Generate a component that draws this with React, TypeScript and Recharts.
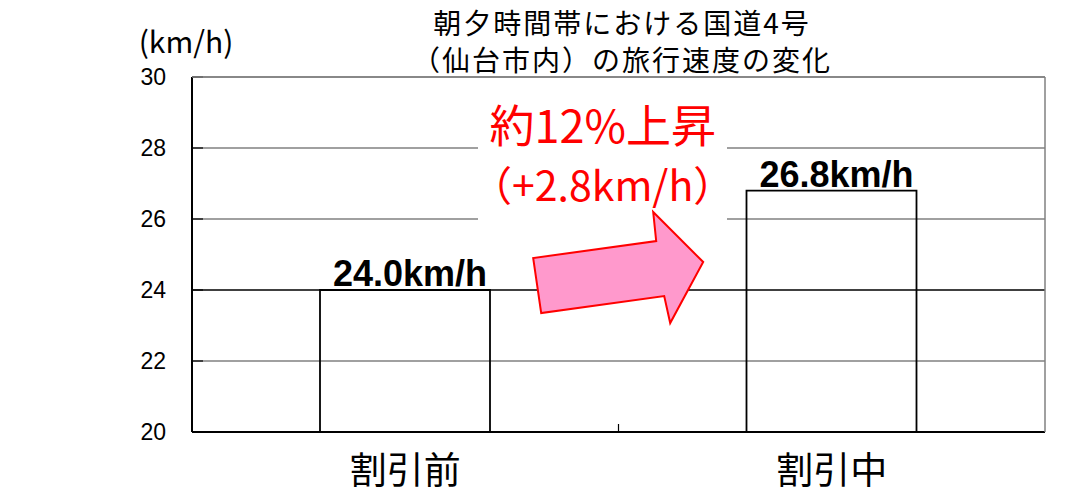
import { BarChart, Bar, XAxis, YAxis, CartesianGrid, LabelList } from 'recharts';

const categories = ['割引前', '割引中'];
const speeds = [24.0, 26.8];
const yTicks = [20, 22, 24, 26, 28, 30];
const titleLines = ['朝夕時間帯における国道4号', '（仙台市内）の旅行速度の変化'];
const unitLabel = '(km/h)';
const noteLines = ['約12%上昇', '（+2.8km/h）'];

const W = 1067;
const H = 504;
const M = { top: 77, right: 22, bottom: 12, left: 112 };
const Y_AXIS_W = 80;
const X_AXIS_H = 60;
const PLOT_LEFT = M.left + Y_AXIS_W;
const PLOT_RIGHT = W - M.right;
const PLOT_TOP = M.top;
const PLOT_BOTTOM = H - M.bottom - X_AXIS_H;
const Y_MIN = 20;
const Y_MAX = 30;

const yPx = (v: number) => PLOT_BOTTOM - ((v - Y_MIN) / (Y_MAX - Y_MIN)) * (PLOT_BOTTOM - PLOT_TOP);
const bandW = (PLOT_RIGHT - PLOT_LEFT) / categories.length;

const data = categories.map((name, i) => ({ name, speed: speeds[i] }));

const jp = '"Noto Sans CJK JP", sans-serif';
const latin = '"Liberation Sans", Arial, sans-serif';

// the 24 line is drawn black in the original, the rest grey
function GridLine(props: any) {
    const { x1, x2, y1, y2 } = props;
    const dark = Math.abs(y1 - yPx(24)) < 1;
    return <line x1={x1} x2={x2} y1={y1} y2={y2} stroke={dark ? '#000' : '#808080'} strokeWidth={1.5} />;
}

function YTick(props: any) {
    const { y, payload } = props;
    return (
        <g>
            <line x1={PLOT_LEFT} x2={PLOT_LEFT + 11} y1={y} y2={y} stroke="#000" strokeWidth={1.2} />
            <text x={PLOT_LEFT - 26} y={y + 8} textAnchor="end" fontSize={23} fontFamily={latin} fill="#000">
                {payload.value}
            </text>
        </g>
    );
}

function XTick(props: any) {
    const { x, payload } = props;
    return (
        <text x={x} y={PLOT_BOTTOM + 52} textAnchor="middle" fontSize={37} fontFamily={jp} fill="#000">
            {payload.value}
        </text>
    );
}

function Overlay() {
    // arrow between the two bars, anchored to the plot geometry
    const ax = PLOT_LEFT + bandW * 0.8;
    const ay = yPx(24.9);
    const pts = [
        [ax, ay],
        [ax + 8, ay + 55],
        [ax + 131, ay + 38],
        [ax + 137, ay + 65],
        [ax + 170, ay + 4],
        [ax + 120, ay - 46],
        [ax + 123, ay - 17],
    ]
        .map((p) => p.join(','))
        .join(' ');
    const cx = PLOT_LEFT + bandW * 0.963;
    return (
        <svg width={W} height={H} style={{ position: 'absolute', left: 0, top: 0, pointerEvents: 'none' }}>
            <line x1={PLOT_LEFT} x2={PLOT_RIGHT} y1={PLOT_TOP} y2={PLOT_TOP} stroke="#808080" strokeWidth={1.5} />
            <line x1={PLOT_RIGHT} x2={PLOT_RIGHT} y1={PLOT_TOP} y2={PLOT_BOTTOM} stroke="#808080" strokeWidth={1.5} />
            <line x1={PLOT_LEFT + bandW} x2={PLOT_LEFT + bandW} y1={PLOT_BOTTOM} y2={PLOT_BOTTOM - 8} stroke="#000" strokeWidth={1.2} />
            <text x={186} y={53} textAnchor="middle" fontSize={30} fontFamily={jp} fill="#000">
                {unitLabel}
            </text>
            {titleLines.map((t, i) => (
                <text key={i} x={622} y={34 + i * 37} textAnchor="middle" fontSize={28} letterSpacing={2} fontFamily={jp} fill="#000">
                    {t}
                </text>
            ))}
            <rect x={478} y={96} width={249} height={126} fill="#fff" />
            <text x={cx} y={143} textAnchor="middle" fontSize={45} fontFamily={jp} fill="#ff0000">
                {noteLines[0]}
            </text>
            <text x={cx} y={201} textAnchor="middle" fontSize={41} fontFamily={jp} fill="#ff0000">
                {noteLines[1]}
            </text>
            <polygon points={pts} fill="#ff99cc" stroke="#ff0000" strokeWidth={2} strokeLinejoin="miter" />
        </svg>
    );
}

export default function App() {
    return (
        <div style={{ position: 'absolute', left: 0, top: 0, width: W, height: H, background: '#fff' }}>
            <BarChart width={W} height={H} data={data} margin={M}>
                <CartesianGrid vertical={false} horizontal={(p: any) => <GridLine {...p} />} />
                <XAxis
                    dataKey="name"
                    height={X_AXIS_H}
                    stroke="#000"
                    strokeWidth={2}
                    tickLine={false}
                    tick={<XTick />}
                />
                <YAxis
                    width={Y_AXIS_W}
                    domain={[Y_MIN, Y_MAX]}
                    ticks={yTicks}
                    allowDataOverflow
                    stroke="#000"
                    strokeWidth={2}
                    tickLine={false}
                    tick={<YTick />}
                />
                <Bar dataKey="speed" fill="none" stroke="#000" strokeWidth={1.8} barSize={170} isAnimationActive={false}>
                    <LabelList
                        dataKey="speed"
                        position="top"
                        offset={4}
                        dx={5}
                        formatter={(v: any) => `${Number(v).toFixed(1)}km/h`}
                        style={{ fontSize: 36, fontWeight: 'bold', fontFamily: latin, fill: '#000' }}
                    />
                </Bar>
            </BarChart>
            <Overlay />
        </div>
    );
}
